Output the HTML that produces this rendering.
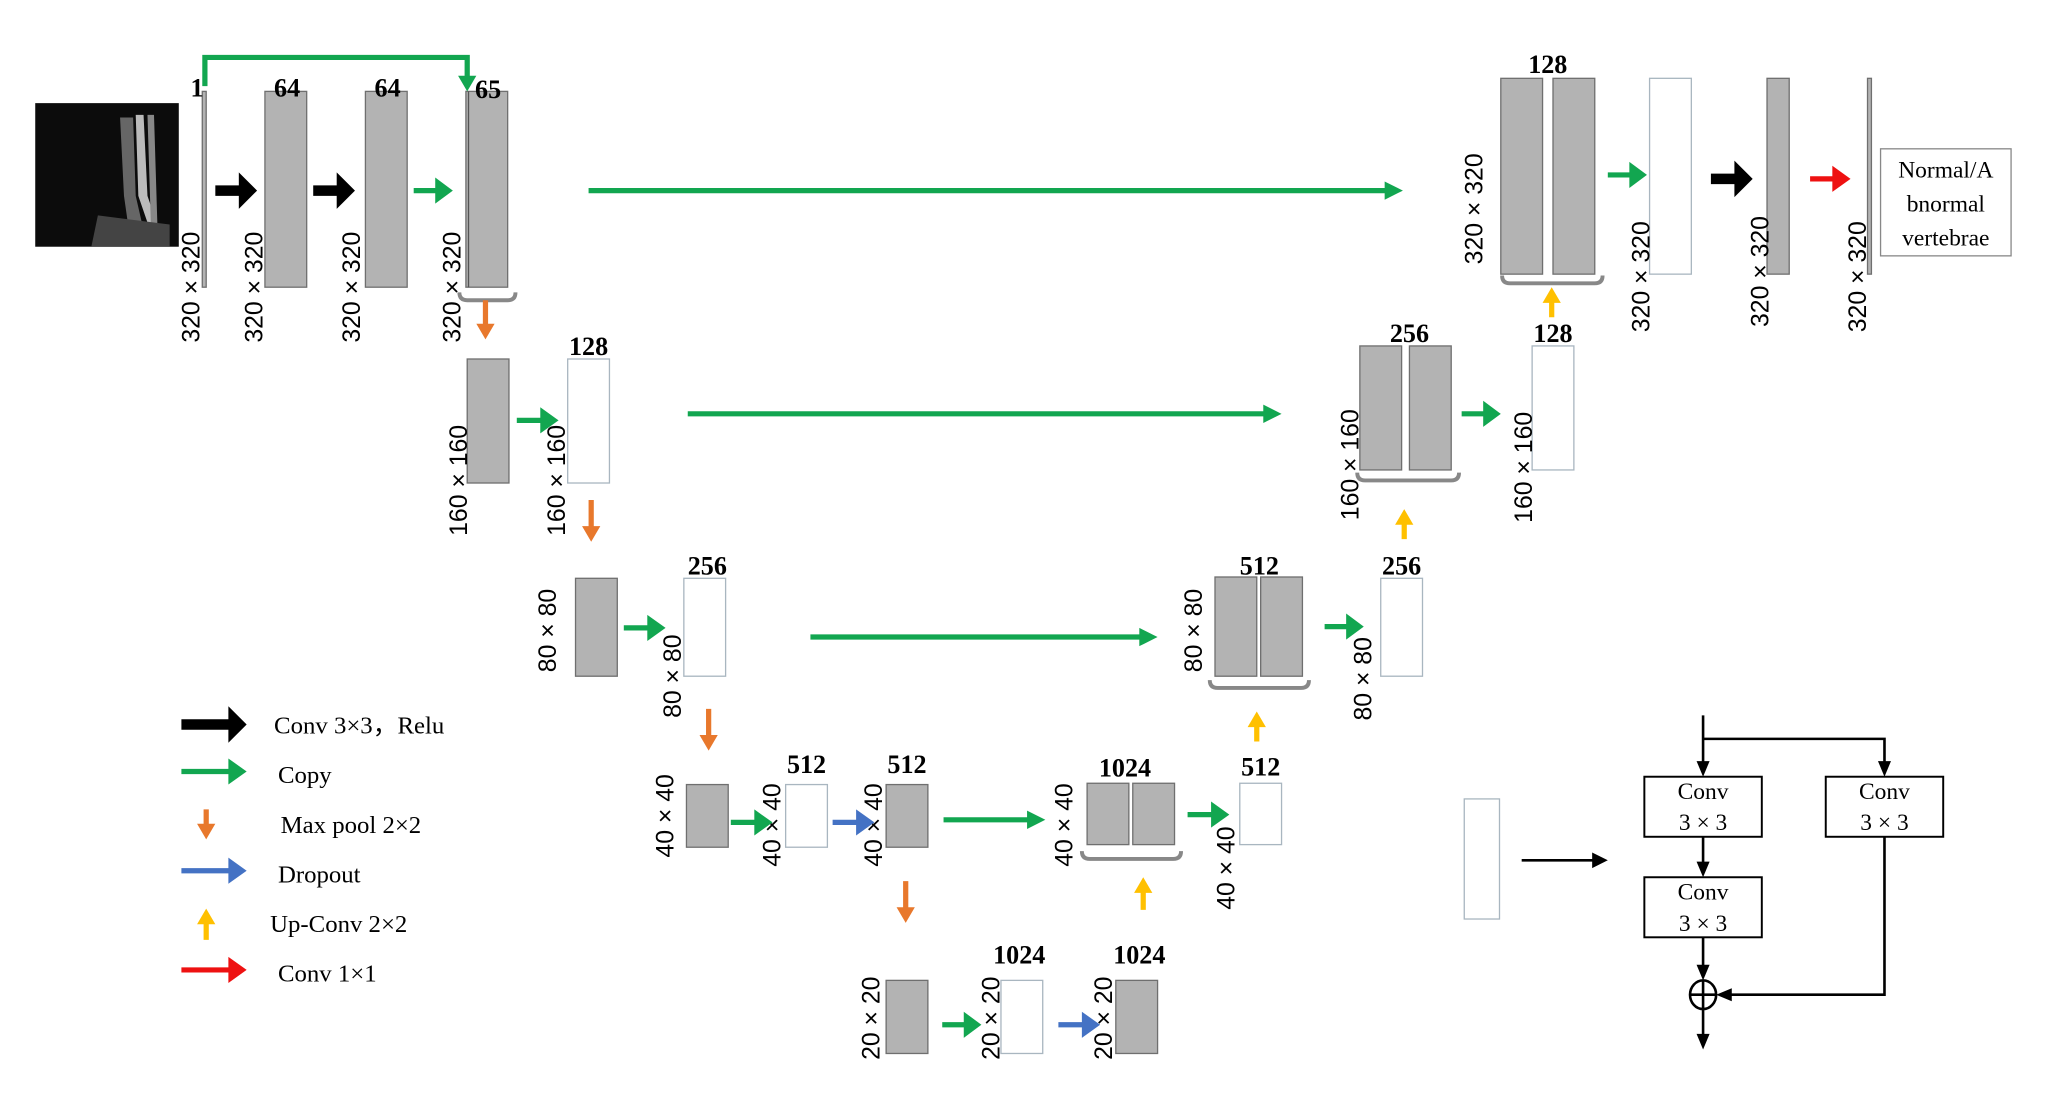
<!DOCTYPE html>
<html><head><meta charset="utf-8"><style>
html,body{margin:0;padding:0;background:#fff;}
svg{display:block;}
.g{fill:#b3b3b3;stroke:#6f6f6f;stroke-width:1;}
.w{fill:#fff;stroke:#a9b6c0;stroke-width:1;}
.n{font-family:"Liberation Serif",serif;font-weight:bold;font-size:20px;text-anchor:middle;}
.d{font-family:"Liberation Sans",sans-serif;font-size:19px;text-anchor:middle;}
.l{font-family:"Liberation Serif",serif;font-size:19px;}
.br{fill:none;stroke:#888;stroke-width:3;}
.bx{fill:#fff;stroke:#000;stroke-width:1.5;}
.c{font-family:"Liberation Serif",serif;font-size:18px;text-anchor:middle;}
</style></head><body>
<svg id="s" width="2045" height="1107" viewBox="0 0 1567 848" preserveAspectRatio="none" xmlns="http://www.w3.org/2000/svg">
<rect x="27" y="79" width="110" height="110" fill="#0c0c0c"/>
<path d="M92 90 L102 90 L104 150 L112 185 L100 185 L95 150 Z" fill="#666"/>
<path d="M104 88 L110 88 L113 150 L125 185 L118 185 L106 150 Z" fill="#bbb"/>
<path d="M113 88 L118 88 L121 185 L116 185 Z" fill="#888"/>
<path d="M75 165 L130 172 L130 189 L70 189 Z" fill="#444"/>
<!-- row1 -->
<rect x="155" y="70" width="3" height="150" class="g"/>
<rect x="203" y="70" width="32" height="150" class="g"/>
<rect x="280" y="70" width="32" height="150" class="g"/>
<rect x="357" y="70" width="32" height="150" class="g"/>
<line x1="359" y1="70" x2="359" y2="220" stroke="#555"/>
<text class="n" x="151" y="74">1</text><text class="n" x="220" y="74">64</text><text class="n" x="297" y="74">64</text><text class="n" x="374" y="75">65</text>
<path d="M157 66 V44 H358 V62" fill="none" stroke="#12a650" stroke-width="4"/>
<text class="d" transform="translate(153,220) rotate(-90)">320 × 320</text>
<text class="d" transform="translate(201,220) rotate(-90)">320 × 320</text>
<text class="d" transform="translate(276,220) rotate(-90)">320 × 320</text>
<text class="d" transform="translate(353,220) rotate(-90)">320 × 320</text>
<path class="br" d="M352 224 q0 6 6 6 h31 q6 0 6 -6"/>
<!-- row2 -->
<rect x="358" y="275" width="32" height="95" class="g"/>
<rect x="435" y="275" width="32" height="95" class="w"/>
<text class="n" x="451" y="272">128</text>
<text class="d" transform="translate(358,368) rotate(-90)">160 × 160</text>
<text class="d" transform="translate(433,368) rotate(-90)">160 × 160</text>
<!-- row3 -->
<rect x="441" y="443" width="32" height="75" class="g"/>
<rect x="524" y="443" width="32" height="75" class="w"/>
<text class="n" x="542" y="440">256</text>
<text class="d" transform="translate(426,483) rotate(-90)">80 × 80</text>
<text class="d" transform="translate(522,518) rotate(-90)">80 × 80</text>
<!-- row4 -->
<rect x="526" y="601" width="32" height="48" class="g"/>
<rect x="602" y="601" width="32" height="48" class="w"/>
<rect x="679" y="601" width="32" height="48" class="g"/>
<text class="n" x="618" y="592">512</text><text class="n" x="695" y="592">512</text>
<text class="d" transform="translate(516,625) rotate(-90)">40 × 40</text>
<text class="d" transform="translate(598,632) rotate(-90)">40 × 40</text>
<text class="d" transform="translate(676,632) rotate(-90)">40 × 40</text>
<rect x="833" y="600" width="32" height="47" class="g"/>
<rect x="868" y="600" width="32" height="47" class="g"/>
<text class="n" x="862" y="595">1024</text>
<path class="br" d="M829 652 q0 6 6 6 h64 q6 0 6 -6"/>
<text class="d" transform="translate(822,632) rotate(-90)">40 × 40</text>
<rect x="950" y="600" width="32" height="47" class="w"/>
<text class="n" x="966" y="594">512</text>
<text class="d" transform="translate(946,665) rotate(-90)">40 × 40</text>
<!-- row5 -->
<rect x="679" y="751" width="32" height="56" class="g"/>
<rect x="767" y="751" width="32" height="56" class="w"/>
<rect x="855" y="751" width="32" height="56" class="g"/>
<text class="n" x="781" y="738">1024</text><text class="n" x="873" y="738">1024</text>
<text class="d" transform="translate(674,780) rotate(-90)">20 × 20</text>
<text class="d" transform="translate(766,780) rotate(-90)">20 × 20</text>
<text class="d" transform="translate(852,780) rotate(-90)">20 × 20</text>
<!-- right row3 -->
<rect x="931" y="442" width="32" height="76" class="g"/>
<rect x="966" y="442" width="32" height="76" class="g"/>
<text class="n" x="965" y="440">512</text>
<path class="br" d="M927 521 q0 6 6 6 h64 q6 0 6 -6"/>
<text class="d" transform="translate(921,483) rotate(-90)">80 × 80</text>
<rect x="1058" y="443" width="32" height="75" class="w"/>
<text class="n" x="1074" y="440">256</text>
<text class="d" transform="translate(1051,520) rotate(-90)">80 × 80</text>
<!-- right row2 -->
<rect x="1042" y="265" width="32" height="95" class="g"/>
<rect x="1080" y="265" width="32" height="95" class="g"/>
<text class="n" x="1080" y="262">256</text>
<path class="br" d="M1040 362 q0 6 6 6 h66 q6 0 6 -6"/>
<text class="d" transform="translate(1041,356) rotate(-90)">160 × 160</text>
<rect x="1174" y="265" width="32" height="95" class="w"/>
<text class="n" x="1190" y="262">128</text>
<text class="d" transform="translate(1174,358) rotate(-90)">160 × 160</text>
<!-- right row1 -->
<rect x="1150" y="60" width="32" height="150" class="g"/>
<rect x="1190" y="60" width="32" height="150" class="g"/>
<text class="n" x="1186" y="56">128</text>
<path class="br" d="M1151 211 q0 6 6 6 h65 q6 0 6 -6"/>
<text class="d" transform="translate(1136,160) rotate(-90)">320 × 320</text>
<rect x="1264" y="60" width="32" height="150" class="w"/>
<text class="d" transform="translate(1264,212) rotate(-90)">320 × 320</text>
<rect x="1354" y="60" width="17" height="150" class="g"/>
<text class="d" transform="translate(1355,208) rotate(-90)">320 × 320</text>
<rect x="1431" y="60" width="3" height="150" class="g"/>
<text class="d" transform="translate(1430,212) rotate(-90)">320 × 320</text>
<rect x="1441" y="114" width="100" height="82" fill="#fff" stroke="#888"/>
<text class="c" x="1491" y="136">Normal/A</text><text class="c" x="1491" y="162">bnormal</text><text class="c" x="1491" y="188">vertebrae</text>
<!-- legend text -->
<text class="l" x="210" y="562">Conv 3×3，Relu</text>
<text class="l" x="213" y="600">Copy</text>
<text class="l" x="215" y="638">Max pool 2×2</text>
<text class="l" x="213" y="676">Dropout</text>
<text class="l" x="207" y="714">Up-Conv 2×2</text>
<text class="l" x="213" y="752">Conv 1×1</text>
<!-- bottom right block -->
<rect x="1122" y="612" width="27" height="92" class="w" stroke="#999"/>
<g stroke="#000" stroke-width="2" fill="none">
<line x1="1166" y1="659" x2="1222" y2="659"/>
<line x1="1305" y1="548" x2="1305" y2="585"/>
<path d="M1305 566 H1444 V585"/>
<line x1="1305" y1="641" x2="1305" y2="662"/>
<line x1="1305" y1="718" x2="1305" y2="741"/>
<path d="M1444 641 V762 H1326"/>
<line x1="1305" y1="772" x2="1305" y2="794"/>
<ellipse cx="1305" cy="762" rx="10" ry="11"/>
<line x1="1295" y1="762" x2="1315" y2="762"/><line x1="1305" y1="751" x2="1305" y2="773"/>
</g>
<g fill="#000">
<path d="M1232 659 l-12 -6 v12 z"/>
<path d="M1305 595 l-5 -12 h10 z"/><path d="M1444 595 l-5 -12 h10 z"/>
<path d="M1305 672 l-5 -12 h10 z"/><path d="M1305 751 l-5 -12 h10 z"/>
<path d="M1315 762 l12 -5 v10 z"/><path d="M1305 804 l-5 -12 h10 z"/>
</g>
<rect x="1260" y="595" width="90" height="46" class="bx"/>
<rect x="1399" y="595" width="90" height="46" class="bx"/>
<rect x="1260" y="672" width="90" height="46" class="bx"/>
<text class="c" x="1305" y="612">Conv</text><text class="c" x="1305" y="636">3 × 3</text>
<text class="c" x="1444" y="612">Conv</text><text class="c" x="1444" y="636">3 × 3</text>
<text class="c" x="1305" y="689">Conv</text><text class="c" x="1305" y="713">3 × 3</text>
<g id="arr"></g>
</svg>
<script>
var K='#000',G='#12a650',O='#e8782c',B='#4472c4',Y='#ffc000',R='#ee1111';
function h(x1,x2,y,c,t){t=t||5;var hl=Math.min(14,(x2-x1)*0.45),hw=t+6;
return '<path d="M'+x1+' '+(y-t/2)+'H'+(x2-hl)+'V'+(y-hw)+'L'+x2+' '+y+'L'+(x2-hl)+' '+(y+hw)+'V'+(y+t/2)+'H'+x1+'Z" fill="'+c+'"/>';}
function v(x,y1,y2,c){var t=4,d=y2>y1?1:-1,hl=12,hw=7;
return '<path d="M'+(x-t/2)+' '+y1+'V'+(y2-d*hl)+'H'+(x-hw)+'L'+x+' '+y2+'L'+(x+hw)+' '+(y2-d*hl)+'H'+(x+t/2)+'V'+y1+'Z" fill="'+c+'"/>';}
function hl(x1,x2,y,c){return '<line x1="'+x1+'" y1="'+y+'" x2="'+(x2-10)+'" y2="'+y+'" stroke="'+c+'" stroke-width="4"/><path d="M'+x2+' '+y+'l-14 -7v14z" fill="'+c+'"/>';}
var s='';
s+=h(165,197,146,K,8)+h(240,272,146,K,8)+h(317,347,146,G,4);
s+=hl(451,1075,146,G)+'<path d="M358 70 l-7 -12 h14 z" fill="'+G+'"/>';
s+=v(372,230,260,O)+h(396,428,322,G,4)+hl(527,982,317,G)+v(453,383,415,O);
s+=h(478,510,481,G,4)+hl(621,887,488,G)+v(543,543,575,O);
s+=h(560,592,630,G,4)+h(638,670,630,B,4)+hl(723,801,628,G)+v(876,697,672,Y)+h(910,942,624,G,4)+v(694,675,707,O);
s+=h(722,752,785,G,4)+h(811,843,785,B,4);
s+=v(963,568,545,Y)+h(1015,1045,480,G,4)+v(1076,413,390,Y)+h(1120,1150,317,G,4)+v(1189,243,220,Y);
s+=h(1232,1262,134,G,4)+h(1311,1343,137,K,8)+h(1387,1418,137,R,4);
s+=h(139,189,555,K,8)+h(139,189,591,G,4)+v(158,620,643,O)+h(139,189,667,B,4)+v(158,720,696,Y)+h(139,189,743,R,4);
document.getElementById('arr').innerHTML=s;
</script>
</body></html>
